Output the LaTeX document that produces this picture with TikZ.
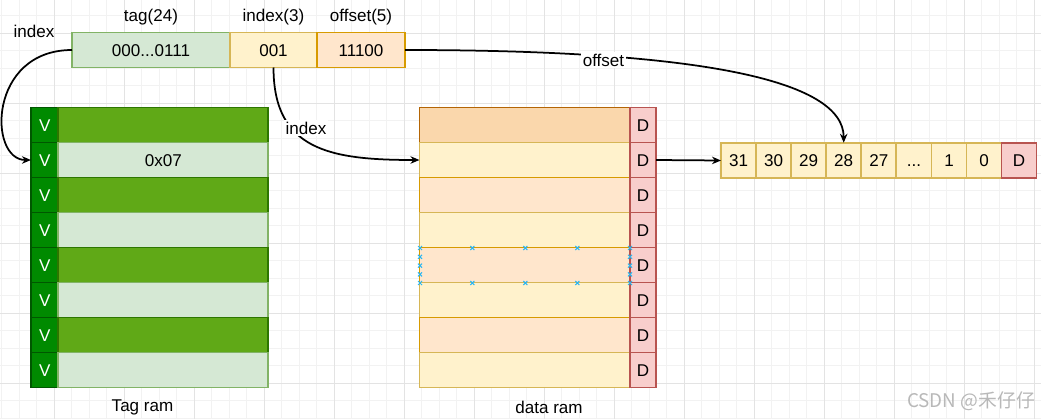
\documentclass[tikz,border=0pt]{standalone}
\usepackage{fontspec}
\setmainfont{Liberation Sans}
\newfontfamily\cjkfont{Noto Sans CJK SC}
\usepackage{xcolor}
\usetikzlibrary{arrows.meta}

\definecolor{vfill}{HTML}{008A00}
\definecolor{vline}{HTML}{005700}
\definecolor{darkfill}{HTML}{60A917}
\definecolor{darkline}{HTML}{2D7600}
\definecolor{litefill}{HTML}{D5E8D4}
\definecolor{liteline}{HTML}{82B366}
\definecolor{orfill}{HTML}{FAD7AC}
\definecolor{orline}{HTML}{B46504}
\definecolor{yefill}{HTML}{FFF2CC}
\definecolor{yeline}{HTML}{D6B656}
\definecolor{pefill}{HTML}{FFE6CC}
\definecolor{peline}{HTML}{D79B00}
\definecolor{rdfill}{HTML}{F8CECC}
\definecolor{rdline}{HTML}{B85450}
\definecolor{selblue}{HTML}{29B6F2}

\tikzset{
  cell/.style={draw, line width=0.35mm, inner sep=0pt, outer sep=0pt, minimum height=7mm,
    text height=2.4mm, text depth=0mm},
  vcell/.style={cell, fill=vfill, draw=vline, text=white, minimum width=5.5mm},
  tagdark/.style={cell, fill=darkfill, draw=darkline, minimum width=42mm},
  taglite/.style={cell, fill=litefill, draw=liteline, minimum width=42mm},
  dataor/.style={cell, fill=orfill, draw=orline, minimum width=42.1mm},
  dataye/.style={cell, fill=yefill, draw=yeline, minimum width=42.1mm},
  datape/.style={cell, fill=pefill, draw=peline, minimum width=42.1mm},
  dcell/.style={cell, fill=rdfill, draw=rdline, minimum width=5.2mm},
  bitcell/.style={cell, fill=yefill, draw=yeline, minimum width=7mm, minimum height=7.1mm},
  link/.style={line width=0.35mm, -{Stealth[length=1.8mm, width=1.5mm]}},
  edgelabel/.style={fill=white, inner sep=1pt},
  selmark/.style={draw=selblue, line width=0.2mm},
  gridminor/.style={draw=black!5, line width=0.2mm},
  gridmajor/.style={draw=black!11, line width=0.2mm}
}

\begin{document}
\begin{tikzpicture}[x=0.2mm, y=-0.2mm, font=\fontsize{9.7}{11.6}\selectfont]

\useasboundingbox (0,0) rectangle (1041,419);
\fill[white] (0,0) rectangle (1041,419);

% background grid
\foreach \gx in {1.8,19.3,...,1041} \draw[gridminor] (\gx,0) -- (\gx,419);
\foreach \gy in {15.8,33.3,...,419} \draw[gridminor] (0,\gy) -- (1041,\gy);
\foreach \gx in {54.3,124.3,...,1041} \draw[gridmajor] (\gx,0) -- (\gx,419);
\foreach \gy in {33.3,103.3,...,419} \draw[gridmajor] (0,\gy) -- (1041,\gy);

% address fields
\node[cell, fill=litefill, draw=liteline, minimum width=31.6mm] (tagf) at (151,50) {000...0111};
\node[cell, fill=yefill, draw=yeline, minimum width=17.4mm] (idxf) at (273.5,50) {001};
\node[cell, fill=pefill, draw=peline, minimum width=17.6mm] (offf) at (361,50) {11100};

\node (taglbl) at (151,17) {tag(24)};
\node (idxlbl) at (273.5,17) {index(3)};
\node (offlbl) at (361,17) {offset(5)};
\node (tagidx) at (34,31) {index};

% tag ram
\node[vcell] (v1) at (44.7,125) {V};
\node[vcell] (v2) at (44.7,160) {V};
\node[vcell] (v3) at (44.7,195) {V};
\node[vcell] (v4) at (44.7,230) {V};
\node[vcell] (v5) at (44.7,265) {V};
\node[vcell] (v6) at (44.7,300) {V};
\node[vcell] (v7) at (44.7,335) {V};
\node[vcell] (v8) at (44.7,370) {V};
\node[tagdark] (t1) at (163.3,125) {};
\node[taglite] (t2) at (163.3,160) {0x07};
\node[tagdark] (t3) at (163.3,195) {};
\node[taglite] (t4) at (163.3,230) {};
\node[tagdark] (t5) at (163.3,265) {};
\node[taglite] (t6) at (163.3,300) {};
\node[tagdark] (t7) at (163.3,335) {};
\node[taglite] (t8) at (163.3,370) {};
\node (tagram) at (142.5,407) {Tag ram};

% data ram
\node[dataor] (d1) at (524.7,125) {};
\node[dataye] (d2) at (524.7,160) {};
\node[datape] (d3) at (524.7,195) {};
\node[dataye] (d4) at (524.7,230) {};
\node[datape] (d5) at (524.7,265) {};
\node[dataye] (d6) at (524.7,300) {};
\node[datape] (d7) at (524.7,335) {};
\node[dataye] (d8) at (524.7,370) {};
\node[dcell] (dd1) at (643,125) {D};
\node[dcell] (dd2) at (643,160) {D};
\node[dcell] (dd3) at (643,195) {D};
\node[dcell] (dd4) at (643,230) {D};
\node[dcell] (dd5) at (643,265) {D};
\node[dcell] (dd6) at (643,300) {D};
\node[dcell] (dd7) at (643,335) {D};
\node[dcell] (dd8) at (643,370) {D};
\node (dataram) at (549,407) {data ram};

% selection handles
\foreach \x/\y in {420/248,472.3/248,525.3/248,577.3/248,630/248,
                   420/283,472.3/283,525.3/283,577.3/283,630/283,
                   420/256.8,420/265.6,420/274.4,630/256.8,630/265.6,630/274.4}
  \draw[selmark] ({\x-2},{\y-2}) -- ({\x+2},{\y+2}) ({\x-2},{\y+2}) -- ({\x+2},{\y-2});

% cache line bytes
\node[bitcell] (b31) at (738.5,160.5) {31};
\node[bitcell] (b30) at (773.6,160.5) {30};
\node[bitcell] (b29) at (808.7,160.5) {29};
\node[bitcell] (b28) at (843.7,160.5) {28};
\node[bitcell] (b27) at (878.8,160.5) {27};
\node[bitcell] (bdots) at (913.9,160.5) {...};
\node[bitcell] (b1) at (949,160.5) {1};
\node[bitcell] (b0) at (984,160.5) {0};
\node[bitcell, fill=rdfill, draw=rdline] (bd) at (1019.1,160.5) {D};

% connections
\draw[link] (tagf.west) .. controls (-12,50) and (-12,160) .. (v2.west);
\draw[link] (idxf.south) .. controls (273.5,150) and (330,160) .. (d2.west);
\node[edgelabel] (idxedge) at (306,128) {index};
\draw[link] (offf.east) .. controls (700,50) and (843.7,80) .. (b28.north);
\node[edgelabel] (offedge) at (603.5,60) {offset};
\draw[link] (dd2.east) -- (b31.west);

% watermark
\node[text=black!28, font=\fontsize{10.7}{12.8}\selectfont] (wmark) at (971,401.5) {\cjkfont CSDN @禾仔仔};

\end{tikzpicture}
\end{document}
